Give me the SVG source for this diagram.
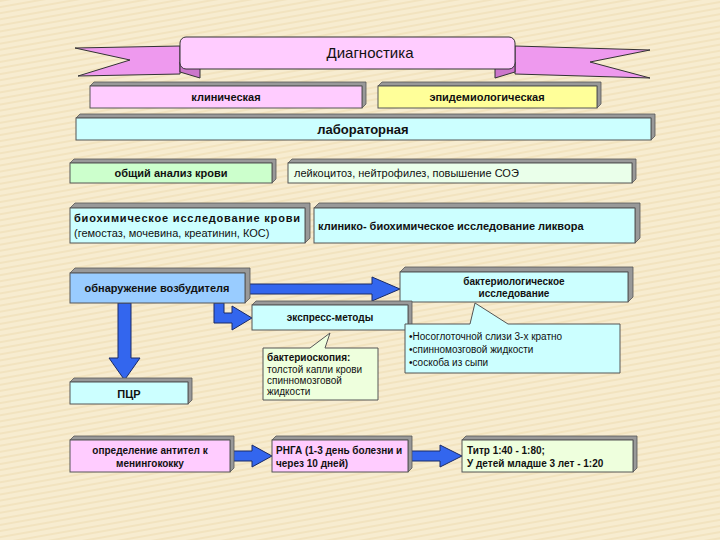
<svg xmlns="http://www.w3.org/2000/svg" width="720" height="540" viewBox="0 0 720 540">
<defs>
<pattern id="bg" width="6" height="6" patternUnits="userSpaceOnUse" patternTransform="rotate(80)">
<rect width="6" height="6" fill="#f7ecd0"/><rect width="2" height="6" fill="#f2e3bf"/>
</pattern>
<style>
.b{stroke:#555;stroke-width:1}
.s{fill:#999;stroke:#555;stroke-width:0.8}
.t{font-family:"Liberation Sans",Arial,sans-serif;font-size:11px;fill:#111}
.tb{font-family:"Liberation Sans",Arial,sans-serif;font-size:11px;font-weight:bold;fill:#111}
.sm{font-size:10px}
.ar{fill:#3366ee;stroke:#1a2a66;stroke-width:1}
</style>
</defs>
<rect width="720" height="540" fill="url(#bg)"/>
<g id="connectors">
<polygon class="ar" points="245,284 372,284 372,277 400,289 372,301 372,294 245,294"/>
<polygon class="ar" points="214,303 224,303 224,313 232,313 232,306 252,318 232,330 232,323 214,323"/>
<polygon class="ar" points="118,303 131,303 131,358 140,358 124.5,380 109,358 118,358"/>
<polygon class="ar" points="230,451 252,451 252,445 272,456 252,467 252,461 230,461"/>
<polygon class="ar" points="408,451 440,451 440,445 462,456 440,467 440,461 408,461"/>
</g>
<g id="banner">
<polygon points="180,46 75,48 130,60 78,76 180,74" fill="#ee99ee" stroke="#333"/>
<polygon points="515,46 650,50 590,62 650,78 515,74" fill="#ee99ee" stroke="#333"/>
<polygon points="180,62 200,62 200,78 180,72" fill="#cc77cc" stroke="#333"/>
<polygon points="515,62 495,62 495,78 515,72" fill="#cc77cc" stroke="#333"/>
<rect x="180" y="37" width="335" height="32" rx="6" fill="#ffccff" stroke="#333"/>
<text x="370" y="58" class="t" style="font-size:15px" text-anchor="middle">Диагностика</text>
</g>
<g id="klin"><polygon class="s" points="90,86 94,82 366,82 366,104 362,108 362,86"/><rect class="b" x="90" y="86" width="272" height="22" fill="#ffccff"/><text x="226" y="101" class="tb" text-anchor="middle">клиническая</text></g>
<g id="epid"><polygon class="s" points="378,86 382,82 601,82 601,104 597,108 597,86"/><rect class="b" x="378" y="86" width="219" height="22" fill="#ffff99"/><text x="487" y="101" class="tb" text-anchor="middle">эпидемиологическая</text></g>
<g id="lab"><polygon class="s" points="76,118 80,114 655,114 655,136 651,140 651,118"/><rect class="b" x="76" y="118" width="575" height="22" fill="#ccffff"/><text x="363" y="134" class="tb" style="font-size:13px" text-anchor="middle">лабораторная</text></g>
<g id="oak"><polygon class="s" points="70,163 74,159 276,159 276,179 272,183 272,163"/><rect class="b" x="70" y="163" width="202" height="20" fill="#ccffcc"/><text x="171" y="177" class="tb" text-anchor="middle">общий анализ крови</text></g>
<g id="leik"><polygon class="s" points="288,163 292,159 636,159 636,179 632,183 632,163"/><rect class="b" x="288" y="163" width="344" height="20" fill="#eaffea"/><text x="294" y="177" class="t">лейкоцитоз, нейтрофилез, повышение СОЭ</text></g>
<g id="bioh"><polygon class="s" points="70,208 75,203 310,203 310,238 305,243 305,208"/><rect class="b" x="70" y="208" width="235" height="35" fill="#ccffff"/><text x="74" y="222" class="tb" textLength="226">биохимическое исследование крови</text><text x="74" y="237" class="t">(гемостаз, мочевина, креатинин, КОС)</text></g>
<g id="likv"><polygon class="s" points="314,208 319,203 640,203 640,238 635,243 635,208"/><rect class="b" x="314" y="208" width="321" height="35" fill="#ccffff"/><text x="318" y="230" class="tb">клинико- биохимическое исследование ликвора</text></g>
<g id="obn"><polygon class="s" points="70,273 75,268 250,268 250,298 245,303 245,273"/><rect class="b" x="70" y="273" width="175" height="30" fill="#99ccff"/><text x="157" y="292" class="tb" text-anchor="middle">обнаружение возбудителя</text></g>
<g id="bakt"><polygon class="s" points="400,272 405,267 633,267 633,297 628,302 628,272"/><rect class="b" x="400" y="272" width="228" height="30" fill="#ccffff"/><text x="514" y="285" class="tb sm" text-anchor="middle">бактериологическое</text><text x="514" y="297" class="tb sm" text-anchor="middle">исследование</text></g>
<g id="expr"><polygon class="s" points="252,305 256,301 412,301 412,326 408,330 408,305"/><rect class="b" x="252" y="305" width="156" height="25" fill="#ccffff"/><text x="330" y="321" class="tb sm" text-anchor="middle">экспресс-методы</text></g>
<g id="bskop"><path class="b" d="M263,348 H310 L330,333 L325,348 H378 V400 H263 Z" fill="#eeffdd"/><text x="267" y="361" class="tb sm">бактериоскопия:</text><text x="267" y="373" class="t sm">толстой капли крови</text><text x="267" y="384" class="t sm">спинномозговой</text><text x="267" y="395" class="t sm">жидкости</text></g>
<g id="list"><path class="b" d="M405,324 H470 L475,303 L508,324 H620 V373 H405 Z" fill="#ccffff"/><text x="409" y="340" class="t sm">•Носоглоточной слизи 3-х кратно</text><text x="409" y="353" class="t sm">•спинномозговой жидкости</text><text x="409" y="366" class="t sm">•соскоба из сыпи</text></g>
<g id="pcr"><polygon class="s" points="70,382 74,378 192,378 192,400 188,404 188,382"/><rect class="b" x="70" y="382" width="118" height="22" fill="#ccffff"/><text x="129" y="398" class="tb" text-anchor="middle">ПЦР</text></g>
<g id="opr"><polygon class="s" points="70,440 74,436 234,436 234,468 230,472 230,440"/><rect class="b" x="70" y="440" width="160" height="32" fill="#ffccff"/><text x="150" y="454" class="tb sm" text-anchor="middle">определение антител к</text><text x="150" y="467" class="tb sm" text-anchor="middle">менингококку</text></g>
<g id="rnga"><polygon class="s" points="272,440 276,436 412,436 412,468 408,472 408,440"/><rect class="b" x="272" y="440" width="136" height="32" fill="#ffccff"/><text x="276" y="454" class="tb sm">РНГА (1-3 день болезни и</text><text x="276" y="467" class="tb sm">через 10 дней)</text></g>
<g id="titr"><polygon class="s" points="462,440 466,436 637,436 637,468 633,472 633,440"/><rect class="b" x="462" y="440" width="171" height="32" fill="#eeffdd"/><text x="467" y="454" class="tb sm">Титр 1:40 - 1:80;</text><text x="467" y="467" class="tb sm">У детей младше 3 лет - 1:20</text></g>
</svg>
